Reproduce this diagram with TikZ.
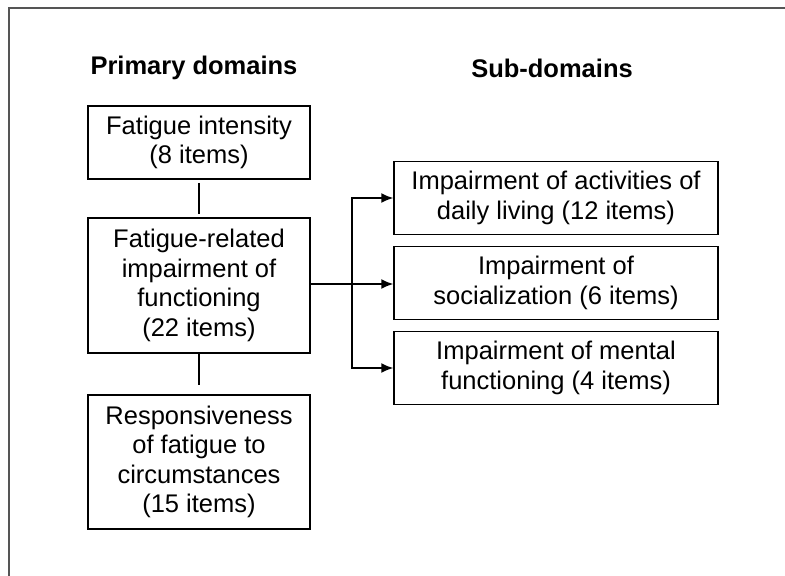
\documentclass[tikz,border=0pt]{standalone}
\usepackage{fontspec}
\setmainfont{Liberation Sans}
\usetikzlibrary{arrows.meta}
\tikzstyle{sheet} = [x = 1pt, y = -1pt]
\definecolor{frameColor}{RGB}{85,85,85}
\tikzstyle{domainBox} = [draw=black, line width=1.5pt, align=center, inner sep=0pt, font=\fontsize{25.5}{29.5}\selectfont]
\tikzstyle{primaryBox} = [domainBox, minimum width=222pt]
\tikzstyle{subBox} = [domainBox, minimum width=324pt, minimum height=73pt]
\tikzstyle{headText} = [font=\fontsize{25.5}{29.5}\selectfont\bfseries]
\tikzstyle{link} = [line width=1.5pt]
\tikzstyle{branchArrow} = [link, -{Latex[length=12pt,width=10pt]}]

\begin{document}
\begin{tikzpicture}[sheet]
            \useasboundingbox (0,0) rectangle (785,576);
            \draw [frameColor, line width=2pt] (9,576) -- (9,8) -- (785,8);

            % headings
            \node [headText] (primaryHead) at (194,68) {Primary domains};
            \node [headText] (subHead) at (552,68) {Sub-domains};

            % primary domains
            \node [primaryBox, minimum height=73pt] (intensity) at (199,142.5) {Fatigue intensity\\(8 items)};
            \node [primaryBox, minimum height=135pt] (impairment) at (199,285.5) {Fatigue-related\\impairment of\\functioning\\(22 items)};
            \node [primaryBox, minimum height=134pt] (responsiveness) at (199,462) {Responsiveness\\of fatigue to\\circumstances\\(15 items)};

            % sub-domains
            \node [subBox] (daily) at (556,198) {Impairment of activities of\\daily living (12 items)};
            \node [subBox] (social) at (556,283) {Impairment of\\socialization (6 items)};
            \node [subBox] (mental) at (556,368) {Impairment of mental\\functioning (4 items)};

            \draw [link, shorten <=3pt, shorten >=3pt] (intensity) -- (impairment);
            \draw [link, shorten >=9pt] (impairment) -- (responsiveness);

            \coordinate (branch) at (352,284);
            \draw [link] (impairment.east |- branch) -- (branch);
            \draw [branchArrow] (branch) |- (daily);
            \draw [branchArrow] (branch) -- (social.west |- branch);
            \draw [branchArrow] (branch) |- (mental);
          \end{tikzpicture}
\end{document}
